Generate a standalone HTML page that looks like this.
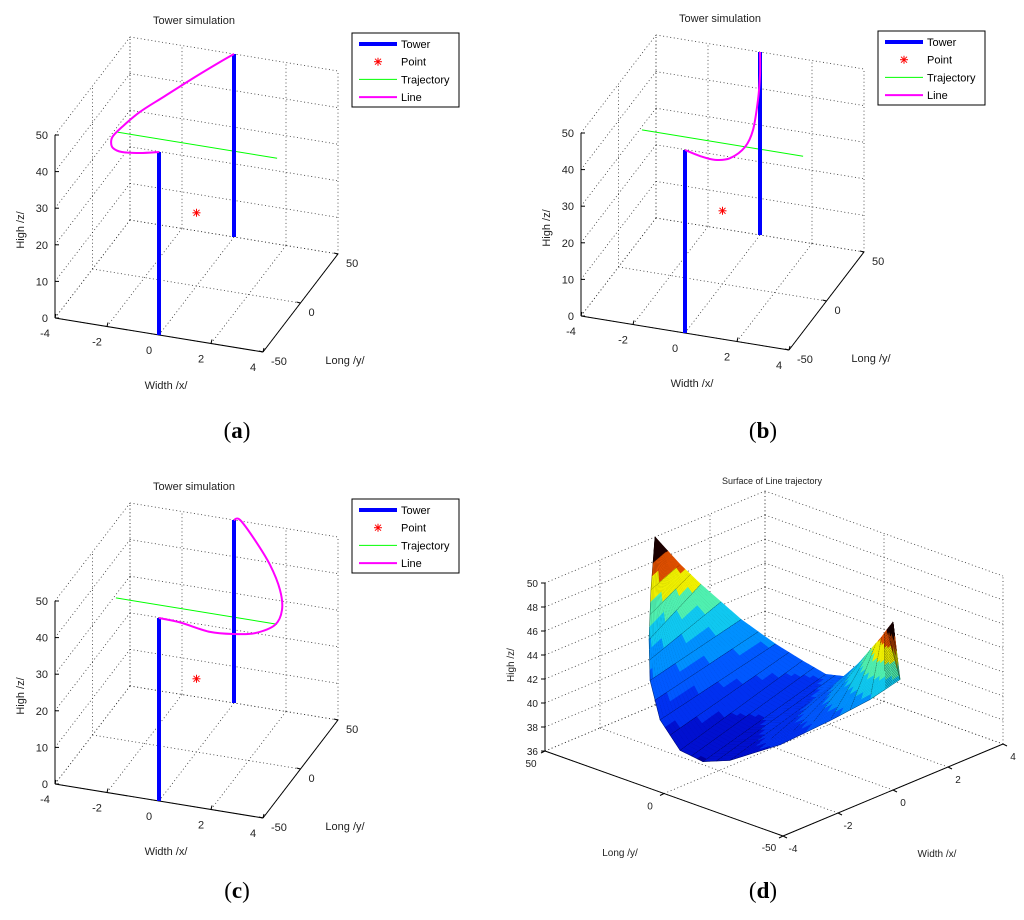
<!DOCTYPE html>
<html><head><meta charset="utf-8"><style>
html,body{margin:0;padding:0;background:#fff;}
svg{display:block;font-family:"Liberation Sans",sans-serif;}
.cap{font-family:"Liberation Serif",serif;font-size:23px;}
</style></head><body>
<svg id="chart" width="1024" height="920" viewBox="0 0 1024 920" xmlns="http://www.w3.org/2000/svg">
<rect width="1024" height="920" fill="#fff"/>
<g id="layer"></g>
<text class="cap" x="237" y="438" text-anchor="middle">(<tspan font-weight="bold">a</tspan>)</text>
<text class="cap" x="763" y="438" text-anchor="middle">(<tspan font-weight="bold">b</tspan>)</text>
<text class="cap" x="237" y="898" text-anchor="middle">(<tspan font-weight="bold">c</tspan>)</text>
<text class="cap" x="763" y="898" text-anchor="middle">(<tspan font-weight="bold">d</tspan>)</text>
</svg>
<script>
// ---- data ----
const xTicks = [-4, -2, 0, 2, 4];
const yTicks = [-50, 0, 50];
const zTicks = [0, 10, 20, 30, 40, 50];
const towerX = [0, 0];
const towerY = [-50, 50];
const towerH = [50, 50];
const pointXYZ = [0, 0, 20];
const trajX = [-3.1, 3.1];
const trajY = [0, 0];
const trajZ = [38.5, 38.5];
const lineAX = [0, -0.62, -1.27, -1.68, -1.9, -1.99, -1.92, -1.7, -1.26, -0.73, -0.27, 0];
const lineAY = [-50, -53.7, -55.5, -53.2, -48, -42.3, -32.8, -16.5, 1.7, 23.4, 40.7, 50];
const lineAZ = [50, 50, 50, 50, 50, 50, 50, 50, 50, 50, 50, 50];
const lineBX = [0, 0, 0, 0, 0, 0, 0, 0, 0];
const lineBY = [-50, -30, -10, 10, 30, 40.7, 47.3, 50, 50];
const lineBZ = [50, 43, 36.6, 31.7, 29.4, 31.2, 37.6, 43.7, 50];
const lineCX = [0, 0, 0, 0, 0, 0, 0, 0, 0, 0, 0, 0];
const lineCY = [-50, -22, 18, 51.3, 78, 104.7, 114, 111.3, 98, 78, 58, 50];
const lineCZ = [50, 41.3, 28, 18.5, 11.6, 6.7, 8.3, 14.5, 24.9, 37, 47.9, 50];
// surface (d)
const dZTicks = [36, 38, 40, 42, 44, 46, 48, 50];
const surfY = [50, 45, 40, 30, 20, 10, 0, -10, -20, -30, -40, -45, -50];
const edgeLowX = [0, -0.58, -1.08, -1.91, -2.41, -2.55, -2.58, -2.47, -1.51, -0.56, 0.03, 0.69, 0];
const edgeLowZ = [50, 46.5, 43.2, 41.3, 39.2, 37.5, 37.3, 38.0, 39.1, 40.9, 42.8, 44.2, 50];
const edgeHighX = [0, 0.48, 0.8, 1.4, 1.78, 1.9, 1.88, 1.7, 1.4, 0.9, 0.45, 0.21, 0];
const edgeHighZ = [50, 47.6, 46.0, 43.2, 41.5, 40.7, 40.3, 41.0, 43.2, 45.4, 47.6, 48.8, 50];
const bandColors = ['#0000a0', '#0010d0', '#0030f0', '#0058ff', '#0090ff', '#10c8f0', '#50f0b0', '#f0f000', '#e05000', '#200000'];

const NS = 'http://www.w3.org/2000/svg';
const layer = document.getElementById('layer');
function mk(tag, attrs, parent) {
  const e = document.createElementNS(NS, tag);
  for (const k in attrs) e.setAttribute(k, attrs[k]);
  (parent || layer).appendChild(e);
  return e;
}
function seg(p, q, style, parent) {
  return mk('line', Object.assign({x1: p[0], y1: p[1], x2: q[0], y2: q[1]}, style), parent);
}
const dot = {stroke: '#333', 'stroke-width': 0.8, 'stroke-dasharray': '1,2.6'};
const solid = {stroke: '#000', 'stroke-width': 1};

function towerPanel(ox, oy, LX, LY, LZ, key) {
  const g = mk('g', {});
  
  
  const P = (x, y, z) => [ox + 55 + 26 * (x + 4) + 0.75 * (y + 50), oy + 318 + 4.25 * (x + 4) - 0.98 * (y + 50) - 3.66 * z];
  let e;
  for (const z of zTicks) {
    e = seg(P(-4, 50, z), P(4, 50, z), dot, g);  
    e = seg(P(-4, -50, z), P(-4, 50, z), dot, g);  
  }
  for (const x of xTicks) {
    e = seg(P(x, 50, 0), P(x, 50, 50), dot, g);  
    e = seg(P(x, -50, 0), P(x, 50, 0), dot, g);  
  }
  for (const y of yTicks) {
    e = seg(P(-4, y, 0), P(-4, y, 50), dot, g);  
    e = seg(P(-4, y, 0), P(4, y, 0), dot, g);  
  }
  e = seg(P(-4, -50, 0), P(-4, -50, 50), solid, g);  
  e = seg(P(-4, -50, 0), P(4, -50, 0), solid, g);  
  e = seg(P(4, -50, 0), P(4, 50, 0), solid, g);  
  for (const z of zTicks) {
    const p = P(-4, -50, z);
    e = seg(p, [p[0] + 4, p[1]], solid, g);  
    e = mk('text', {x: p[0] - 7, y: p[1] + 4, 'text-anchor': 'end', 'font-size': 11, fill: '#222'}, g);
    e.textContent = z;  
  }
  for (const x of xTicks) {
    const p = P(x, -50, 0);
    e = seg(p, [p[0] + 1, p[1] - 4], solid, g);  
    e = mk('text', {x: p[0] - 10, y: p[1] + 19, 'text-anchor': 'middle', 'font-size': 11, fill: '#222'}, g);
    e.textContent = x;  
  }
  for (const y of yTicks) {
    const p = P(4, y, 0);
    e = seg(p, [p[0] - 4, p[1] - 1], solid, g);  
    e = mk('text', {x: p[0] + 8, y: p[1] + 13, 'text-anchor': 'start', 'font-size': 11, fill: '#222'}, g);
    e.textContent = y;  
  }
  e = mk('text', {x: ox + 194, y: oy + 24, 'text-anchor': 'middle', 'font-size': 11, fill: '#222'}, g);
  e.textContent = 'Tower simulation';  
  e = mk('text', {x: ox + 166, y: oy + 389, 'text-anchor': 'middle', 'font-size': 11, fill: '#222'}, g);
  e.textContent = 'Width /x/';  
  e = mk('text', {x: ox + 345, y: oy + 364, 'text-anchor': 'middle', 'font-size': 11, fill: '#222'}, g);
  e.textContent = 'Long /y/';  
  e = mk('text', {x: 0, y: 0, 'text-anchor': 'middle', 'font-size': 11, fill: '#222', transform: 'translate(' + (ox + 24) + ',' + (oy + 230) + ') rotate(-90)'}, g);
  e.textContent = 'High /z/';  
  e = seg(P(trajX[0], trajY[0], trajZ[0]), P(trajX[1], trajY[1], trajZ[1]), {stroke: '#00ff00', 'stroke-width': 1}, g);
   
  const pp = P(pointXYZ[0], pointXYZ[1], pointXYZ[2]);
  const st = mk('g', {stroke: '#ff0000', 'stroke-width': 1}, g);
   
  seg([pp[0] - 4, pp[1]], [pp[0] + 4, pp[1]], {}, st); seg([pp[0], pp[1] - 4], [pp[0], pp[1] + 4], {}, st);
  seg([pp[0] - 3, pp[1] - 3], [pp[0] + 3, pp[1] + 3], {}, st); seg([pp[0] - 3, pp[1] + 3], [pp[0] + 3, pp[1] - 3], {}, st);
  for (let i = 0; i < towerX.length; i++) {
    e = seg(P(towerX[i], towerY[i], 0), P(towerX[i], towerY[i], towerH[i]), {stroke: '#0000ff', 'stroke-width': 4}, g);
     
  }
  const pts = LX.map((x, i) => P(x, LY[i], LZ[i]));
  let d = 'M' + pts[0][0] + ',' + pts[0][1];
  for (let i = 0; i < pts.length - 1; i++) {
    const p0 = pts[Math.max(0, i - 1)], p1 = pts[i], p2 = pts[i + 1], p3 = pts[Math.min(pts.length - 1, i + 2)];
    d += ' C' + (p1[0] + (p2[0] - p0[0]) / 6) + ',' + (p1[1] + (p2[1] - p0[1]) / 6) + ' ' + (p2[0] - (p3[0] - p1[0]) / 6) + ',' + (p2[1] - (p3[1] - p1[1]) / 6) + ' ' + p2[0] + ',' + p2[1];
  }
  e = mk('path', {d: d, fill: 'none', stroke: '#ff00ff', 'stroke-width': 2}, g);
   
  const lg = mk('g', {transform: 'translate(' + ox + ',' + oy + ')'}, g);
   
  mk('rect', {x: 352, y: 33, width: 107, height: 74, fill: '#fff', stroke: '#000', 'stroke-width': 1}, lg);
  const names = ['Tower', 'Point', 'Trajectory', 'Line'];
  const cols = ['#0000ff', '#ff0000', '#00ff00', '#ff00ff'];
  const wids = [4, 0, 1, 2];
  for (let i = 0; i < 4; i++) {
    const yy = 44 + i * 17.7;
    const it = mk('g', {}, lg);
     
    if (wids[i]) seg([359, yy], [397, yy], {stroke: cols[i], 'stroke-width': wids[i]}, it);
    else {
      seg([374, yy], [382, yy], {stroke: '#f00'}, it); seg([378, yy - 4], [378, yy + 4], {stroke: '#f00'}, it);
      seg([375, yy - 3], [381, yy + 3], {stroke: '#f00'}, it); seg([375, yy + 3], [381, yy - 3], {stroke: '#f00'}, it);
    }
    const t = mk('text', {x: 401, y: yy + 4, 'font-size': 11, fill: '#000'}, it);
    t.textContent = names[i];
  }
}
towerPanel(0, 0, lineAX, lineAY, lineAZ, 'a');
towerPanel(526, -2, lineBX, lineBY, lineBZ, 'b');
towerPanel(0, 466, lineCX, lineCY, lineCZ, 'c');

// ---- panel d ----
(function () {
  const g = mk('g', {});
   
  const P = (x, y, z) => [545 + 27.5 * (x + 4) - 2.38 * (y - 50), 751 - 11.5 * (x + 4) - 0.85 * (y - 50) - 12 * (z - 36)];
  let e;
  for (const z of dZTicks) {
    e = seg(P(-4, 50, z), P(4, 50, z), dot, g);  
    e = seg(P(4, 50, z), P(4, -50, z), dot, g);  
  }
  for (const x of xTicks) {
    e = seg(P(x, 50, 36), P(x, 50, 50), dot, g);  
    e = seg(P(x, 50, 36), P(x, -50, 36), dot, g);  
  }
  for (const y of yTicks) {
    e = seg(P(4, y, 36), P(4, y, 50), dot, g);  
    e = seg(P(-4, y, 36), P(4, y, 36), dot, g);  
  }
  e = seg(P(-4, 50, 36), P(-4, 50, 50), solid, g);  
  e = seg(P(-4, 50, 36), P(-4, -50, 36), solid, g);  
  e = seg(P(-4, -50, 36), P(4, -50, 36), solid, g);  
  for (const z of dZTicks) {
    const p = P(-4, 50, z);
    e = seg(p, [p[0] - 4, p[1]], solid, g);  
    e = mk('text', {x: p[0] - 7, y: p[1] + 4, 'text-anchor': 'end', 'font-size': 10, fill: '#222'}, g);
    e.textContent = z;  
  }
  for (const y of yTicks) {
    const p = P(-4, y, 36);
    e = seg(p, [p[0] - 4, p[1] + 2], solid, g);  
    e = mk('text', {x: p[0] - 14, y: p[1] + (y === -50 ? 15 : 16), 'text-anchor': 'middle', 'font-size': 10, fill: '#222'}, g);
    e.textContent = y;  
  }
  for (const x of xTicks) {
    const p = P(x, -50, 36);
    e = seg(p, [p[0] + 4, p[1] + 2], solid, g);  
    e = mk('text', {x: p[0] + 10, y: p[1] + 16, 'text-anchor': 'middle', 'font-size': 10, fill: '#222'}, g);
    e.textContent = x;  
  }
  e = mk('text', {x: 772, y: 484, 'text-anchor': 'middle', 'font-size': 9, fill: '#222'}, g);
  e.textContent = 'Surface of Line trajectory';  
  e = mk('text', {x: 620, y: 856, 'text-anchor': 'middle', 'font-size': 10, fill: '#222'}, g);
  e.textContent = 'Long /y/';  
  e = mk('text', {x: 937, y: 857, 'text-anchor': 'middle', 'font-size': 10, fill: '#222'}, g);
  e.textContent = 'Width /x/';  
  e = mk('text', {x: 0, y: 0, 'text-anchor': 'middle', 'font-size': 10, fill: '#222', transform: 'translate(514,665) rotate(-90)'}, g);
  e.textContent = 'High /z/';  

  // surface mesh
  const SUB = 4, NT = 36;
  const lerp = (a, b, f) => a + (b - a) * f;
  const rows = [];
  for (let i = 0; i < surfY.length - 1; i++) {
    for (let k = 0; k < SUB; k++) rows.push([i, k / SUB]);
  }
  rows.push([surfY.length - 2, 1]);
  const grid = rows.map(([i, f]) => {
    const y = lerp(surfY[i], surfY[i + 1], f);
    const xl = lerp(edgeLowX[i], edgeLowX[i + 1], f), xh = lerp(edgeHighX[i], edgeHighX[i + 1], f);
    const zl = lerp(edgeLowZ[i], edgeLowZ[i + 1], f), zh = lerp(edgeHighZ[i], edgeHighZ[i + 1], f);
    const out = [];
    for (let j = 0; j <= NT; j++) {
      const t = j / NT;
      const x = lerp(xl, xh, t), z = lerp(zl, zh, t);
      out.push({x: x, y: y, z: z, s: P(x, y, z), depth: -11.5 * (x + 4) - 0.85 * (y - 50)});
    }
    return out;
  });
  const quads = [];
  for (let r = 0; r < grid.length - 1; r++) {
    for (let j = 0; j < NT; j++) {
      const a = grid[r][j], b = grid[r][j + 1], c = grid[r + 1][j + 1], d = grid[r + 1][j];
      quads.push({pts: [a, b, c, d], z: (a.z + b.z + c.z + d.z) / 4, depth: (a.depth + b.depth + c.depth + d.depth) / 4, edgeRow: (r % 2 === 0)});
    }
  }
  quads.sort((p, q) => p.depth - q.depth);
  const sg = mk('g', {}, g);
   
  for (const q of quads) {
    const bi = Math.max(0, Math.min(bandColors.length - 1, Math.floor((q.z - 36) / 1.4)));
    const col = bandColors[bi];
    const poly = mk('polygon', {points: q.pts.map(p => p.s[0].toFixed(1) + ',' + p.s[1].toFixed(1)).join(' '), fill: col, stroke: col, 'stroke-width': 0.6}, sg);
     
    const m = mk('path', {d: 'M' + q.pts[0].s + 'L' + q.pts[3].s + (q.edgeRow ? 'M' + q.pts[0].s + 'L' + q.pts[1].s : ''), stroke: '#000', 'stroke-width': 0.4, fill: 'none', 'stroke-opacity': 0.75}, sg);
     
  }
})();
</script>
</body></html>
